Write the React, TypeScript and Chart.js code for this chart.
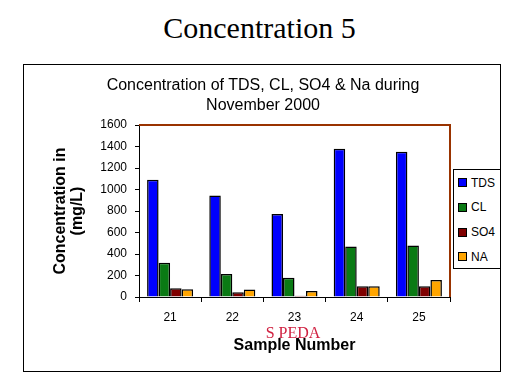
import React, { useEffect, useRef } from "react";
import { Chart, registerables } from "chart.js";

Chart.register(...registerables);

const pageTitle = "Concentration 5";
const chartTitle = ["Concentration of TDS, CL, SO4 & Na during", "November 2000"];
const categories = ["21", "22", "23", "24", "25"];
const seriesNames = ["TDS", "CL", "SO4", "NA"];
const seriesColors = ["#0000FF", "#0A7A14", "#800000", "#FFA500"];
const tdsValues = [1090, 944, 773, 1380, 1352];
const clValues = [318, 214, 178, 470, 478];
const so4Values = [82, 45, 12, 100, 100];
const naValues = [72, 70, 55, 100, 158];
const yTicks = [0, 200, 400, 600, 800, 1000, 1200, 1400, 1600];
const xAxisTitle = "Sample Number";
const yAxisTitle = ["Concentration in", "(mg/L)"];
const watermark = "S PEDA";

const SANS = "'Liberation Sans', Arial, sans-serif";
const SERIF = "'Liberation Serif', 'Times New Roman', serif";

const plotBorder = {
  id: "plotBorder",
  afterDraw(chart: any) {
    const { ctx, chartArea } = chart;
    ctx.save();
    ctx.strokeStyle = "#993300";
    ctx.lineWidth = 2;
    ctx.beginPath();
    ctx.moveTo(chartArea.left, chartArea.top);
    ctx.lineTo(chartArea.right, chartArea.top);
    ctx.lineTo(chartArea.right, chartArea.bottom);
    ctx.stroke();
    ctx.restore();
  },
};

export default function App() {
  const ref = useRef<HTMLCanvasElement | null>(null);

  useEffect(() => {
    if (!ref.current) return;
    const allValues = [tdsValues, clValues, so4Values, naValues];
    const chart = new Chart(ref.current, {
      type: "bar",
      data: {
        labels: categories,
        datasets: seriesNames.map((name, i) => ({
          label: name,
          data: allValues[i],
          backgroundColor: seriesColors[i],
          borderColor: "#000000",
          borderWidth: 1.5,
          barPercentage: 1.0,
          categoryPercentage: 0.74,
        })),
      },
      options: {
        animation: false,
        responsive: false,
        devicePixelRatio: 1,
        layout: { padding: { left: 24, top: 125, right: 69, bottom: 17 } },
        plugins: {
          legend: { display: false },
          title: { display: false },
          tooltip: { enabled: false },
        },
        scales: {
          x: {
            afterFit: (scale: any) => {
              scale.height = 75;
            },
            grid: {
              display: true,
              drawOnChartArea: false,
              drawTicks: true,
              tickLength: 5,
              color: "#000000",
              offset: true,
            },
            border: { display: true, color: "#000000", width: 1 },
            ticks: {
              color: "#000000",
              font: { family: SANS, size: 12 },
              padding: 8,
            },
            title: {
              display: true,
              text: xAxisTitle,
              color: "#000000",
              font: { family: SANS, size: 16, weight: "bold" },
              padding: { top: 0, bottom: 16.4 },
            },
          },
          y: {
            min: 0,
            max: 1600,
            afterFit: (scale: any) => {
              scale.width = 115;
            },
            afterBuildTicks: (scale: any) => {
              scale.ticks = yTicks.map((v) => ({ value: v }));
            },
            grid: {
              display: true,
              drawOnChartArea: false,
              drawTicks: true,
              tickLength: 4,
              color: "#000000",
            },
            border: { display: true, color: "#000000", width: 1 },
            ticks: {
              color: "#000000",
              font: { family: SANS, size: 12 },
              padding: 8,
              callback: (v: any) => String(v),
            },
            title: {
              display: true,
              text: yAxisTitle,
              color: "#000000",
              font: { family: SANS, size: 16, weight: "bold", lineHeight: "17px" },
              padding: { top: 28.5, bottom: 0 },
            },
          },
        },
      },
      plugins: [plotBorder],
    } as any);
    return () => chart.destroy();
  }, []);

  return (
    <div
      style={{
        position: "absolute",
        left: 0,
        top: 0,
        width: 519,
        height: 389,
        background: "#ffffff",
        overflow: "hidden",
      }}
    >
      <div
        style={{
          position: "absolute",
          left: 0,
          top: 13,
          width: 519,
          textAlign: "center",
          fontFamily: SERIF,
          fontSize: 30,
          lineHeight: "30px",
          color: "#000",
        }}
      >
        {pageTitle}
      </div>
      <div
        style={{
          position: "absolute",
          left: 23,
          top: 64,
          width: 478,
          height: 308,
          boxSizing: "border-box",
          border: "1px solid #000",
        }}
      />
      <canvas
        ref={ref}
        width={519}
        height={389}
        style={{ position: "absolute", left: 0, top: 0, width: 519, height: 389 }}
      />
      <div
        style={{
          position: "absolute",
          left: 0,
          top: 75,
          width: 526,
          textAlign: "center",
          fontFamily: SANS,
          fontSize: 16,
          lineHeight: "19.5px",
          color: "#000",
        }}
      >
        {chartTitle.map((t, i) => (
          <div key={i}>{t}</div>
        ))}
      </div>
      <div
        style={{
          position: "absolute",
          left: 293,
          top: 325,
          transform: "translateX(-50%)",
          fontFamily: SERIF,
          fontSize: 16,
          lineHeight: "16px",
          color: "#D02040",
          whiteSpace: "nowrap",
        }}
      >
        {watermark}
      </div>
      <div
        style={{
          position: "absolute",
          left: 453,
          top: 169,
          width: 48,
          height: 100,
          boxSizing: "border-box",
          border: "1px solid #000",
          background: "#fff",
        }}
      >
        {seriesNames.map((name, i) => (
          <div
            key={name}
            style={{
              position: "absolute",
              left: 4,
              top: 4 + i * 24.8,
              height: 17,
              display: "flex",
              alignItems: "center",
              whiteSpace: "nowrap",
            }}
          >
            <span
              style={{
                display: "inline-block",
                width: 7,
                height: 7,
                background: seriesColors[i],
                border: "1px solid #000",
                marginRight: 4,
              }}
            />
            <span style={{ fontFamily: SANS, fontSize: 12, color: "#000" }}>{name}</span>
          </div>
        ))}
      </div>
    </div>
  );
}
